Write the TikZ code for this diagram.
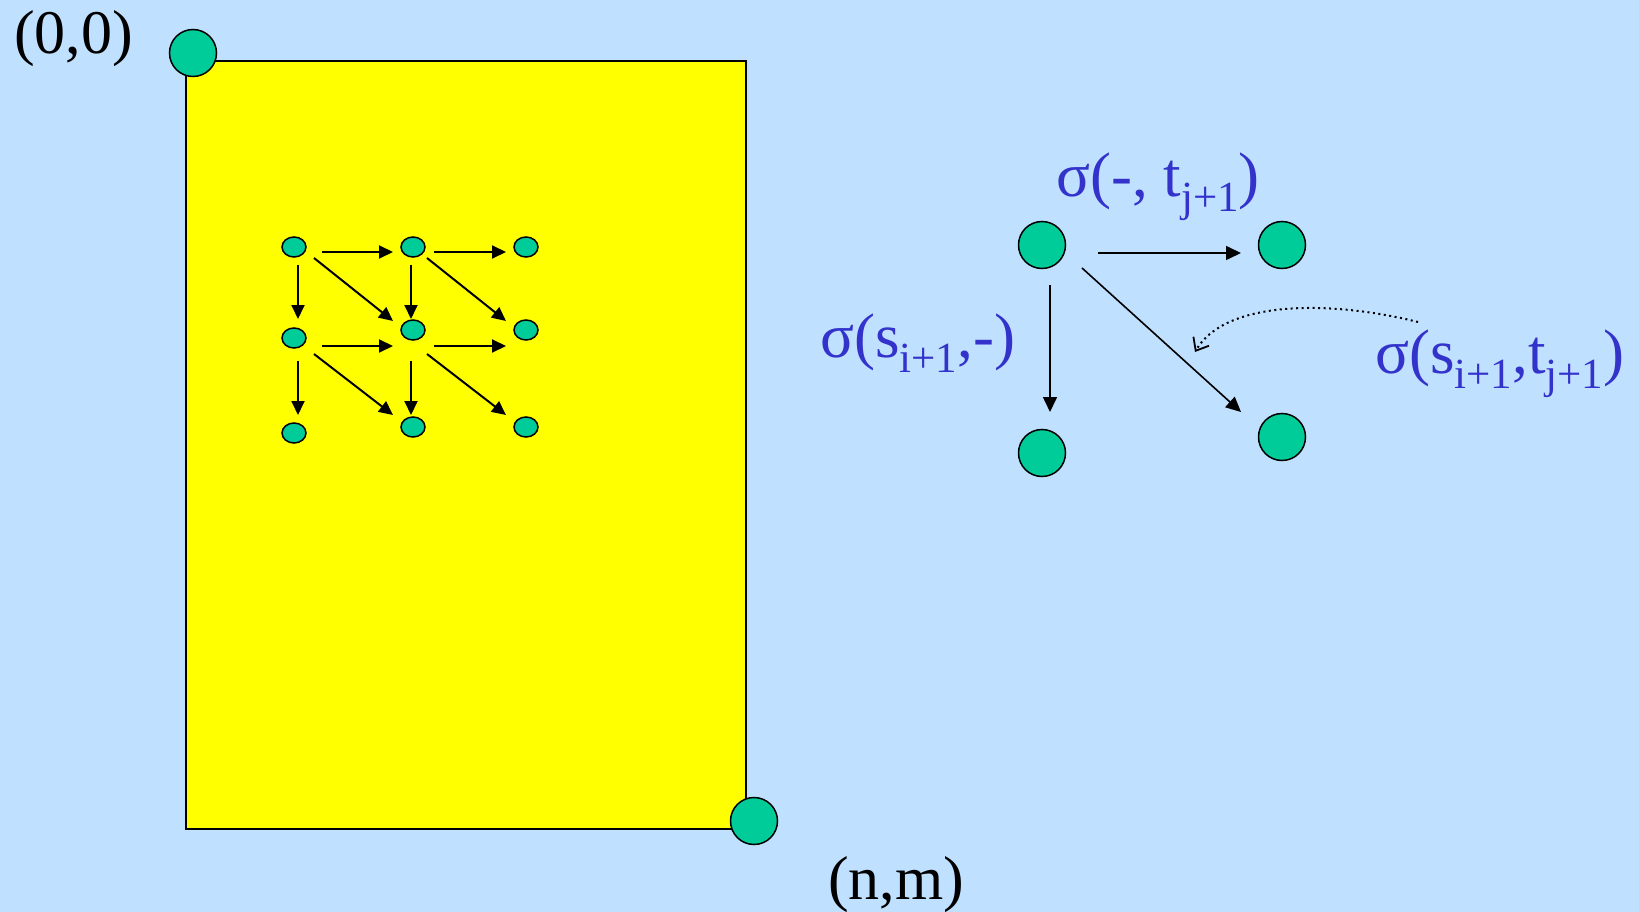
\documentclass[tikz,border=0pt]{standalone}
\usepackage{fontspec}
\setmainfont{Liberation Serif}
\usetikzlibrary{arrows.meta,calc,shapes.geometric}
\definecolor{bg}{RGB}{192,224,255}
\definecolor{nodegreen}{RGB}{0,204,153}
\definecolor{lblue}{RGB}{51,51,204}
\definecolor{boxyellow}{RGB}{255,255,0}
\newcommand\sbs[1]{\raisebox{-15pt}{\fontsize{43pt}{43pt}\selectfont #1}}
\begin{document}
\begin{tikzpicture}[x=1pt,y=-1pt,
  bigdot/.style={circle,draw=black,fill=nodegreen,line width=1.5pt,minimum size=47pt,inner sep=0pt},
  smalldot/.style={ellipse,draw=black,fill=nodegreen,line width=1.5pt,minimum width=24pt,minimum height=20pt,inner sep=0pt},
  smallarr/.style={line width=2pt,-{Triangle[length=14pt,width=13pt]}},
  bigarr/.style={line width=1.6pt,-{Triangle[length=15pt,width=14pt]}},
  cornerlbl/.style={anchor=base west,inner sep=0pt,font=\fontsize{62pt}{62pt}\selectfont},
  siglbl/.style={anchor=base west,inner sep=0pt,text=lblue,font=\fontsize{63pt}{63pt}\selectfont},
]
\useasboundingbox (0,0) rectangle (1639,912);
\fill[bg] (0,0) rectangle (1639,912);

% big yellow box
\draw[fill=boxyellow,line width=2pt] (186,61) rectangle (746,829);
\node[bigdot] (tl) at (193,53) {};
\node[bigdot] (br) at (754,821) {};
\node[cornerlbl] (l00) at (14,54) {(0,0)};
\node[cornerlbl] (lnm) at (828,899) {(n,m)};

% small grid graph
\node[smalldot] (n11) at (294,247) {};
\node[smalldot] (n12) at (413,247) {};
\node[smalldot] (n13) at (526,247) {};
\node[smalldot] (n21) at (294,338) {};
\node[smalldot] (n22) at (413,330) {};
\node[smalldot] (n23) at (526,330) {};
\node[smalldot] (n31) at (294,433) {};
\node[smalldot] (n32) at (413,427) {};
\node[smalldot] (n33) at (526,427) {};

\draw[smallarr] ($(n11)+(28,5)$) -- ($(n12)+(-20,5)$);
\draw[smallarr] ($(n12)+(21,5)$) -- ($(n13)+(-20,5)$);
\draw[smallarr] ($(n21)+(28,8)$) -- ($(n22)+(-20,16)$);
\draw[smallarr] ($(n22)+(21,16)$) -- ($(n23)+(-20,16)$);
\draw[smallarr] ($(n11)+(4,18)$) -- ($(n21)+(4,-19)$);
\draw[smallarr] ($(n21)+(4,23)$) -- ($(n31)+(4,-18)$);
\draw[smallarr] ($(n12)+(-2,18)$) -- ($(n22)+(-2,-11)$);
\draw[smallarr] ($(n22)+(-2,31)$) -- ($(n32)+(-2,-12)$);
\draw[smallarr] ($(n11)+(20,11)$) -- ($(n22)+(-20,-9)$);
\draw[smallarr] ($(n12)+(14,11)$) -- ($(n23)+(-20,-9)$);
\draw[smallarr] ($(n21)+(20,16)$) -- ($(n32)+(-20,-12)$);
\draw[smallarr] ($(n22)+(14,24)$) -- ($(n33)+(-20,-12)$);

% right graph
\node[bigdot] (a) at (1042,245) {};
\node[bigdot] (b) at (1282,245) {};
\node[bigdot] (c) at (1042,453) {};
\node[bigdot] (d) at (1282,437) {};

\draw[bigarr] ($(a)+(56,8)$) -- ($(b)+(-41,8)$);
\draw[bigarr] ($(a)+(8,40)$) -- ($(c)+(8,-41)$);
\draw[bigarr] ($(a)+(40,23)$) -- ($(d)+(-41,-25)$);

\node[siglbl] (sigtop) at (1056,197) {σ(-, t\sbs{j+1})};
\node[siglbl] (sigleft) at (820,357) {σ(s\sbs{i+1},-)};
\node[siglbl] (sigright) at (1375,373) {σ(s\sbs{i+1},t\sbs{j+1})};

\coordinate (dstart) at (1418,322);
\coordinate (dend) at (1195,352);
\draw[line width=2pt,dash pattern=on 2pt off 3.5pt,-{Straight Barb[length=11pt,width=18pt,line width=1.8pt]}]
  (dstart) .. controls (1330,300) and (1225,300) .. (dend);
\end{tikzpicture}
\end{document}
